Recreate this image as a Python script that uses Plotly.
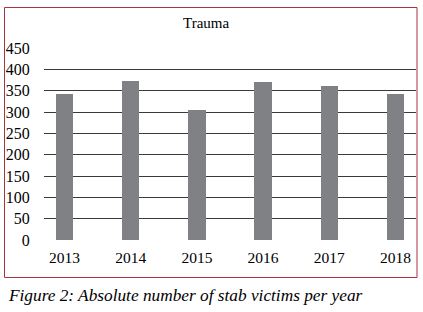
import plotly.graph_objects as go

years = ["2013", "2014", "2015", "2016", "2017", "2018"]
victims = [342, 373, 305, 370, 361, 342]
y_ticks = [0, 50, 100, 150, 200, 250, 300, 350, 400, 450]

W, H = 423, 312
L, R, T, B = 44, 416, 48, 240  # plot area pixels
pw, ph = R - L, B - T

def px(x):
    return (x - L) / pw

def py(y):
    return (B - y) / ph

fig = go.Figure(go.Bar(x=list(range(len(years))), y=victims, marker_color="#808184",
                       width=0.26, marker_line_width=0, hoverinfo="skip"))

fig.update_layout(
    width=W, height=H,
    margin=dict(l=L, r=W - R, t=T, b=H - B, pad=0),
    paper_bgcolor="white", plot_bgcolor="white",
    font=dict(family="Liberation Serif", color="black", size=16),
    showlegend=False,
    bargap=0,
)
fig.update_xaxes(range=[-0.31, 5.31], tickvals=list(range(len(years))), ticktext=years,
                 showgrid=False, zeroline=False, showline=False,
                 ticks="outside", ticklen=3, tickcolor="rgba(0,0,0,0)",
                 tickfont=dict(family="Liberation Serif", size=15.5))
fig.update_yaxes(range=[0, 450], tickvals=y_ticks, showgrid=True, gridcolor="#3a3a3a",
                 gridwidth=1, zeroline=False, showline=False,
                 ticks="outside", ticklen=10, tickcolor="rgba(0,0,0,0)",
                 tickfont=dict(family="Liberation Serif", size=16))

fig.add_shape(type="rect", xref="paper", yref="paper",
              x0=px(4.5), x1=px(417), y0=py(277.5), y1=py(7.5),
              line=dict(color="#a8343f", width=1), fillcolor="rgba(0,0,0,0)")

fig.add_annotation(text="Trauma", xref="paper", yref="paper", x=px(206), y=py(23),
                   xanchor="center", yanchor="middle", showarrow=False,
                   font=dict(family="Liberation Serif", size=15, color="black"))
fig.add_annotation(text="<i>Figure 2: Absolute number of stab victims per year</i>",
                   xref="paper", yref="paper", x=px(6), y=py(295),
                   xanchor="left", yanchor="middle", showarrow=False,
                   font=dict(family="Liberation Serif", size=17.3, color="black"))

fig.write_html("out.html", config={"displayModeBar": False},
               post_script="document.body.style.margin='0';")
